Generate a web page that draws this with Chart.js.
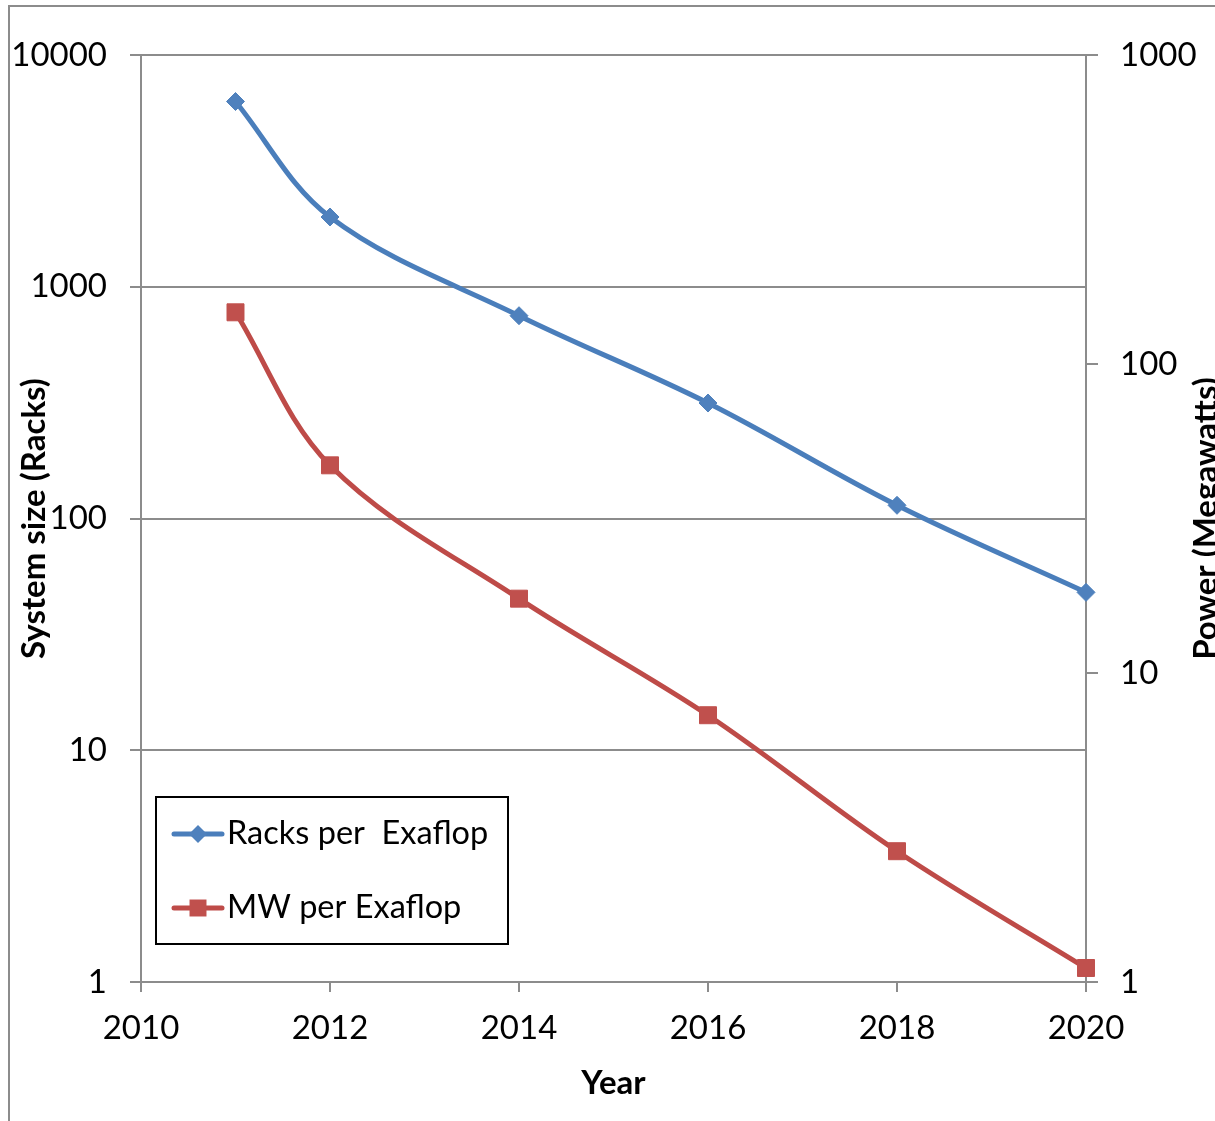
<!DOCTYPE html>
<html>
<head>
<meta charset="utf-8">
<title>Racks and power per exaflop</title>
<script src="https://cdn.jsdelivr.net/npm/chart.js@4.4.1/dist/chart.umd.min.js"></script>
<style>
  html, body { margin: 0; padding: 0; overflow: hidden; background: #fff; width: 1215px; height: 1121px; }
  #frame { position: absolute; left: 8px; top: 5px; width: 1400px; height: 1400px;
           border-left: 2px solid #8c8c8c; border-top: 2px solid #8c8c8c; }
  #chart { position: absolute; left: 0; top: 0; }
</style>
</head>
<body>
<div id="frame"></div>
<canvas id="chart" width="1250" height="1121"></canvas>
<script>
// Projected system size and power needed for one exaflop
const years = [2011, 2012, 2014, 2016, 2018, 2020];
const racksPerExaflop = [6300, 2000, 750, 315, 114, 48];
const mwPerExaflop = [147, 47, 17.4, 7.3, 2.65, 1.11];

const yearTicks = [2010, 2012, 2014, 2016, 2018, 2020];
const rackTicks = [1, 10, 100, 1000, 10000];
const powerTicks = [1, 10, 100, 1000];

const seriesNames = ['Racks per  Exaflop', 'MW per Exaflop'];
const xTitle = 'Year';
const leftTitle = 'System size (Racks)';
const rightTitle = 'Power (Megawatts)';

const GRID = '#8c8c8c';
const FONT = 'Lato';
const SIZE = 33;
const LEGEND_SIZE = 32.5;

Chart.defaults.font.family = FONT;
Chart.defaults.color = '#000';

const toPoints = vals => years.map((x, i) => ({ x, y: vals[i] }));
const fixedTicks = list => scale => { scale.ticks = list.map(v => ({ value: v })); };

// Rotated title on the secondary axis, reading bottom to top
const rightTitlePlugin = {
  id: 'rightTitle',
  afterDraw(chart) {
    const { ctx, chartArea } = chart;
    const s = chart.scales.y1;
    ctx.save();
    ctx.font = `bold ${SIZE}px ${FONT}`;
    ctx.fillStyle = '#000';
    ctx.textAlign = 'center';
    ctx.textBaseline = 'alphabetic';
    ctx.translate(s.right - 33, (chartArea.top + chartArea.bottom) / 2);
    ctx.rotate(-Math.PI / 2);
    ctx.fillText(rightTitle, 0, 0);
    ctx.restore();
  }
};

// Boxed legend in the lower-left corner of the plot
const legendBoxPlugin = {
  id: 'legendBox',
  afterDraw(chart) {
    const { ctx, chartArea } = chart;
    const left = chartArea.left + 15, top = 797, w = 352, h = 147;
    ctx.save();
    ctx.fillStyle = '#fff';
    ctx.fillRect(left, top, w, h);
    ctx.strokeStyle = '#000';
    ctx.lineWidth = 2;
    ctx.strokeRect(left, top, w, h);
    const rows = [834, 908];
    chart.data.datasets.forEach((ds, i) => {
      const y = rows[i];
      const x0 = left + 18, x1 = left + 66, xm = (x0 + x1) / 2;
      ctx.strokeStyle = ds.borderColor;
      ctx.lineWidth = ds.borderWidth;
      ctx.lineCap = 'round';
      ctx.beginPath(); ctx.moveTo(x0, y); ctx.lineTo(x1, y); ctx.stroke();
      ctx.fillStyle = ds.pointBackgroundColor;
      ctx.beginPath();
      if (ds.pointStyle === 'rectRot') {
        const r = ds.pointRadius;
        ctx.moveTo(xm - r, y); ctx.lineTo(xm, y - r); ctx.lineTo(xm + r, y); ctx.lineTo(xm, y + r);
        ctx.closePath();
      } else {
        const s = ds.pointRadius * Math.SQRT1_2;
        ctx.rect(xm - s, y - s, 2 * s, 2 * s);
      }
      ctx.fill();
      ctx.fillStyle = '#000';
      ctx.font = `${LEGEND_SIZE}px ${FONT}`;
      ctx.textAlign = 'left';
      ctx.textBaseline = 'middle';
      ctx.fillText(ds.label, x1 + 5, y);
    });
    ctx.restore();
  }
};

new Chart(document.getElementById('chart'), {
  type: 'line',
  data: {
    datasets: [
      {
        label: seriesNames[0],
        data: toPoints(racksPerExaflop),
        yAxisID: 'y',
        clip: false,
        borderColor: '#4A7EBB',
        borderWidth: 5,
        tension: 0.35,
        pointStyle: 'rectRot',
        pointRadius: 9,
        pointBackgroundColor: '#4F81BD',
        pointBorderColor: '#4F81BD',
        pointBorderWidth: 1
      },
      {
        label: seriesNames[1],
        data: toPoints(mwPerExaflop),
        yAxisID: 'y1',
        clip: false,
        borderColor: '#BE4B48',
        borderWidth: 5,
        tension: 0.35,
        pointStyle: 'rect',
        pointRadius: 12,
        pointBackgroundColor: '#C0504D',
        pointBorderColor: '#C0504D',
        pointBorderWidth: 1
      }
    ]
  },
  options: {
    responsive: false,
    animation: false,
    devicePixelRatio: 1,
    events: [],
    layout: { padding: { top: 55, left: 0, right: 0, bottom: 0 } },
    plugins: { legend: { display: false }, tooltip: { enabled: false } },
    scales: {
      x: {
        type: 'linear', position: 'bottom', min: 2010, max: 2020,
        afterBuildTicks: fixedTicks(yearTicks),
        afterFit: s => { s.height = 139; },
        grid: { drawOnChartArea: false, drawTicks: true, tickLength: 10, color: GRID, lineWidth: 2 },
        border: { display: true, color: GRID, width: 2 },
        ticks: { padding: 17, font: { size: SIZE }, color: '#000', maxRotation: 0, autoSkip: false,
                 callback: v => String(v) },
        title: { display: true, text: xTitle, color: '#000',
                 font: { size: SIZE, weight: 'bold' }, padding: { top: 0, bottom: 18 } }
      },
      y: {
        type: 'logarithmic', position: 'left', min: 1, max: 10000,
        afterBuildTicks: fixedTicks(rackTicks),
        afterFit: s => { s.width = 141; },
        grid: { drawOnChartArea: true, drawTicks: true, tickLength: 11, color: GRID, lineWidth: 2 },
        border: { display: true, color: GRID, width: 2 },
        ticks: { padding: 23, font: { size: SIZE }, color: '#000', autoSkip: false,
                 callback: v => String(v) },
        title: { display: true, text: leftTitle, color: '#000',
                 font: { size: SIZE, weight: 'bold' }, padding: { top: 15, bottom: 0 } }
      },
      y1: {
        type: 'logarithmic', position: 'right', min: 1, max: 1000,
        afterBuildTicks: fixedTicks(powerTicks),
        afterFit: s => { s.width = 1250 - 1086; },
        grid: { drawOnChartArea: false, drawTicks: true, tickLength: 12, color: GRID, lineWidth: 2 },
        border: { display: true, color: GRID, width: 2 },
        ticks: { padding: 22, font: { size: SIZE }, color: '#000', autoSkip: false,
                 callback: v => String(v) }
      }
    }
  },
  plugins: [rightTitlePlugin, legendBoxPlugin]
});
</script>
</body>
</html>
